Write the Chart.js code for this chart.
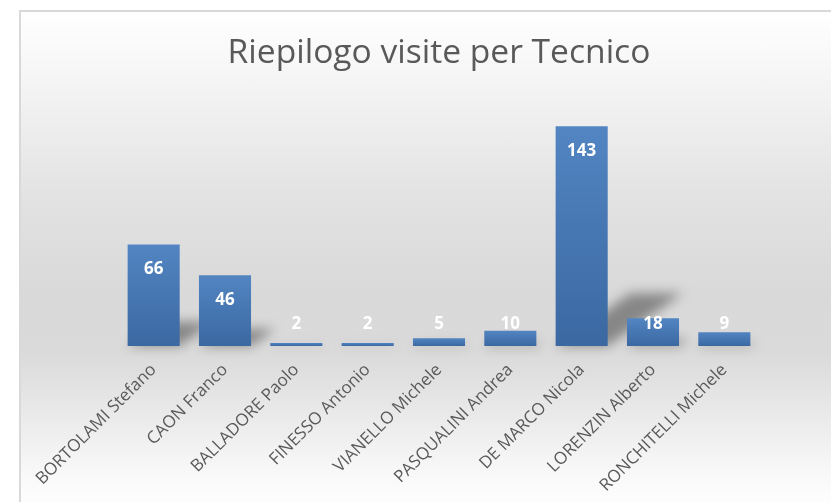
<!DOCTYPE html>
<html>
<head>
<meta charset="utf-8">
<script src="https://cdn.jsdelivr.net/npm/chart.js@4.4.0/dist/chart.umd.min.js"></script>
<style>
  body { margin: 0; background: #fff; overflow: hidden; }
  #frame {
    position: absolute; left: 19px; top: 10px; width: 830px; height: 510px;
    border: 2px solid #d9d9d9; border-right: none; border-bottom: none;
    background: linear-gradient(to bottom, #ffffff 0px, #f3f3f3 80px, #e3e3e3 180px, #d9d9d9 280px,
      #dadada 340px, #e9e9e9 400px, #f8f8f8 460px, #ffffff 500px);
  }
  #chart { position: absolute; left: 0; top: 0; }
</style>
</head>
<body>
<div id="frame"></div>
<canvas id="chart" width="831" height="502"></canvas>
<script>
// dati
var titolo = 'Riepilogo visite per Tecnico';
var tecnici = ['BORTOLAMI Stefano', 'CAON Franco', 'BALLADORE Paolo', 'FINESSO Antonio', 'VIANELLO Michele',
    'PASQUALINI Andrea', 'DE MARCO Nicola', 'LORENZIN Alberto', 'RONCHITELLI Michele'];
var visite = [66, 46, 2, 2, 5, 10, 143, 18, 9];

// ombra in prospettiva dietro le barre
var ombre = {
    id: 'ombre',
    beforeDatasetsDraw: function(chart) {
        var c = chart.ctx;
        var meta = chart.getDatasetMeta(0);
        c.save();
        c.filter = 'blur(6px)';
        c.fillStyle = 'rgba(0,0,0,0.38)';
        meta.data.forEach(function(bar) {
            var h = bar.base - bar.y;
            var x0 = bar.x - bar.width / 2, x1 = bar.x + bar.width / 2;
            c.beginPath();
            c.moveTo(x0, bar.base);
            c.lineTo(x1, bar.base);
            c.lineTo(x1 + h * 0.34, bar.base - h * 0.24);
            c.lineTo(x0 + h * 0.34, bar.base - h * 0.24);
            c.closePath();
            c.fill();
        });
        c.restore();
    }
};

// etichette bianche sulle barre
var etichette = {
    id: 'etichette',
    afterDatasetsDraw: function(chart) {
        var c = chart.ctx;
        var meta = chart.getDatasetMeta(0);
        c.save();
        c.fillStyle = '#ffffff';
        c.font = 'bold 17px "Open Sans"';
        c.textAlign = 'center';
        c.textBaseline = 'middle';
        meta.data.forEach(function(bar, i) {
            var y = Math.min(bar.y + 25, bar.base - 22);
            c.fillText(visite[i], bar.x, y);
        });
        c.restore();
    }
};

var ctx = document.getElementById('chart').getContext('2d');
var grafico = new Chart(ctx, {
    type: 'bar',
    data: {
        labels: tecnici,
        datasets: [{
            data: visite,
            backgroundColor: function(context) {
                var chart = context.chart;
                if (!chart.chartArea || !chart.scales.y) return '#4877b3';
                var top = chart.scales.y.getPixelForValue(context.raw);
                var base = chart.scales.y.getPixelForValue(0);
                if (base - top < 1) return '#4877b3';
                var g = chart.ctx.createLinearGradient(0, top, 0, base);
                g.addColorStop(0, '#5285c2');
                g.addColorStop(1, '#3b68a1');
                return g;
            },
            borderWidth: 0,
            categoryPercentage: 1,
            barPercentage: 0.73
        }]
    },
    options: {
        responsive: false,
        animation: false,
        layout: { padding: { left: 118, right: 71, top: 0, bottom: 0 } },
        plugins: {
            legend: { display: false },
            tooltip: { enabled: false },
            title: {
                display: true,
                text: titolo,
                color: '#595959',
                font: { family: 'Open Sans', size: 33.6, weight: 'normal' },
                padding: { top: 33, bottom: 26.7 }
            }
        },
        scales: {
            x: {
                grid: { display: false, drawTicks: false },
                border: { display: false },
                ticks: {
                    color: '#595959',
                    font: { family: 'Open Sans', size: 17 },
                    minRotation: 45,
                    maxRotation: 45,
                    autoSkip: false,
                    padding: 14
                },
                afterFit: function(scale) { scale.height = 156; }
            },
            y: { display: false, min: 0, max: 160 }
        }
    },
    plugins: [ombre, etichette]
});
</script>
</body>
</html>
